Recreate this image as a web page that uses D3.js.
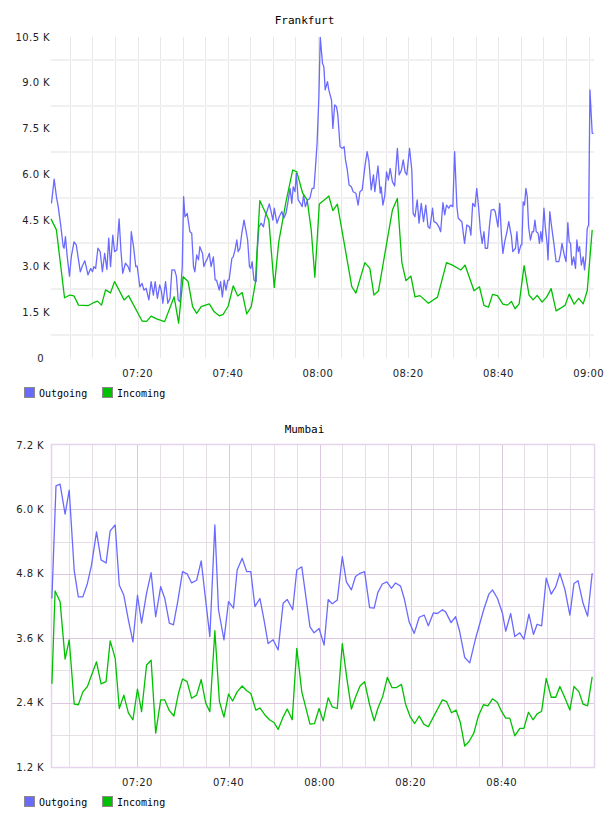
<!DOCTYPE html>
<html>
<head>
<meta charset="utf-8">
<script src="https://cdn.jsdelivr.net/npm/d3@7"></script>
<style>
  body { margin: 0; background: #fff; }
  .tick-label { font-family: "DejaVu Sans", sans-serif; font-size: 10px; fill: #222; letter-spacing: 0.4px; }
  .title, .legend { font-family: "DejaVu Sans Mono", monospace; fill: #000; }
</style>
</head>
<body>
<svg id="chart" width="608" height="816"></svg>
<script>
// values are [minutes after 07:00, thousands]
const frankfurtOut = [[0.9,5.06],[1.5,5.85],[2.0,5.28],[2.4,4.95],[3.0,4.29],[3.5,3.64],[3.7,3.59],[4.0,3.97],[4.4,3.31],[4.9,2.68],[5.3,3.31],[5.9,3.80],[6.4,3.70],[6.9,3.21],[7.3,2.82],[7.7,2.99],[8.3,3.18],[8.6,2.99],[9.0,2.72],[9.6,2.93],[10.0,2.82],[10.3,2.99],[10.7,2.93],[11.2,3.59],[11.7,3.48],[12.2,2.82],[12.7,3.42],[13.2,2.90],[13.6,3.92],[14.0,2.99],[14.5,4.02],[14.9,3.48],[15.4,3.53],[15.9,4.55],[16.3,3.53],[16.7,2.77],[17.3,3.10],[17.9,2.99],[18.3,2.82],[18.6,4.13],[19.1,3.64],[19.6,2.99],[19.9,3.01],[20.5,2.33],[21.0,2.44],[21.4,2.22],[21.9,2.28],[22.5,1.90],[23.0,2.50],[23.5,2.06],[23.9,2.50],[24.4,1.95],[24.9,2.39],[25.3,2.17],[25.6,1.79],[26.2,2.50],[26.7,1.79],[27.2,1.95],[27.6,2.88],[28.2,2.88],[28.6,2.68],[29.0,1.90],[29.4,1.84],[29.9,2.99],[30.2,5.28],[30.5,4.62],[31.0,4.73],[31.6,4.13],[32.0,4.08],[32.4,2.99],[32.7,2.82],[33.1,3.37],[33.5,3.21],[33.8,3.64],[34.4,3.42],[34.7,2.99],[35.1,3.15],[35.5,3.26],[35.9,3.42],[36.3,2.99],[36.8,3.31],[37.2,2.55],[37.5,2.55],[38.1,2.22],[38.4,2.50],[38.8,2.00],[39.2,2.55],[39.6,2.22],[40.0,2.55],[40.3,2.55],[40.9,3.26],[41.2,3.31],[41.6,3.53],[42.0,3.86],[42.3,3.48],[42.7,3.59],[43.1,4.08],[43.6,4.51],[44.0,4.19],[44.4,3.86],[44.8,2.99],[45.1,2.93],[45.4,3.15],[45.8,2.55],[46.3,2.50],[46.5,3.42],[46.9,4.29],[47.4,4.41],[47.9,4.29],[48.3,4.62],[48.9,4.90],[49.2,5.04],[49.6,4.79],[50.0,4.51],[50.3,4.90],[50.9,4.41],[51.4,4.62],[52.0,4.79],[52.4,4.57],[52.9,4.73],[53.3,5.06],[53.8,5.55],[54.2,5.06],[54.5,5.60],[54.9,5.44],[55.2,6.04],[55.6,5.17],[56.1,5.06],[56.5,4.95],[56.8,5.33],[57.2,4.95],[57.7,5.17],[58.2,5.22],[58.7,5.55],[59.1,5.55],[59.4,6.15],[59.8,7.02],[60.2,8.55],[60.5,10.49],[61.0,9.64],[61.3,9.53],[61.6,8.77],[62.1,9.04],[62.4,8.77],[62.7,8.60],[63.0,8.44],[63.3,7.51],[63.7,8.28],[64.1,8.22],[64.4,7.95],[64.9,6.91],[65.4,6.86],[65.8,6.91],[66.1,6.48],[66.5,6.15],[66.9,5.66],[67.4,5.60],[67.8,5.44],[68.4,5.39],[68.9,5.00],[69.3,5.44],[69.8,5.50],[70.4,6.26],[70.9,6.75],[71.3,6.42],[71.8,5.50],[72.3,5.99],[72.6,5.44],[73.3,6.28],[73.8,5.39],[74.0,5.60],[74.4,5.00],[74.8,5.30],[75.2,6.09],[75.6,5.82],[76.0,6.20],[76.5,5.77],[77.0,5.63],[77.6,6.86],[78.0,5.99],[78.5,6.15],[78.9,6.48],[79.3,6.09],[79.7,5.99],[80.3,6.86],[80.8,6.15],[81.1,4.73],[81.5,4.62],[82.0,5.17],[82.4,4.41],[82.9,5.06],[83.4,4.46],[83.9,5.00],[84.4,4.29],[84.8,4.24],[85.4,4.90],[85.7,4.46],[86.3,4.41],[86.8,4.29],[87.2,4.13],[87.7,5.08],[88.1,4.68],[88.5,5.00],[89.0,4.90],[89.4,5.00],[89.9,4.95],[90.3,6.75],[90.8,4.95],[91.1,4.57],[91.9,4.46],[92.5,3.75],[93.0,4.35],[93.6,4.29],[93.9,4.02],[94.3,5.06],[94.8,4.95],[95.2,5.55],[95.6,4.95],[96.0,4.19],[96.4,3.75],[96.8,4.13],[97.1,3.59],[97.6,3.59],[98.0,4.29],[98.4,4.84],[99.0,4.86],[99.3,4.79],[99.9,4.29],[100.3,5.06],[100.7,3.97],[101.0,3.42],[101.4,3.80],[101.9,4.13],[102.3,4.46],[102.9,3.97],[103.2,3.48],[103.8,3.59],[104.1,4.13],[104.5,3.42],[105.0,3.70],[105.2,3.70],[105.5,5.11],[105.8,5.00],[106.1,5.55],[106.4,5.28],[106.7,4.29],[107.1,3.86],[107.5,4.13],[107.8,4.13],[108.1,4.51],[108.4,4.13],[108.8,4.08],[109.1,3.75],[109.4,4.13],[109.7,3.80],[110.1,4.90],[110.4,4.29],[110.8,3.75],[111.0,3.21],[111.4,4.79],[111.7,4.41],[112.3,3.75],[112.8,3.15],[113.4,3.15],[113.8,3.42],[114.1,3.75],[114.6,3.37],[115.0,3.15],[115.4,4.43],[115.7,3.80],[116.0,3.75],[116.3,3.04],[116.7,3.31],[117.1,2.93],[117.4,3.86],[117.7,3.48],[118.0,3.64],[118.4,3.04],[118.8,3.31],[119.1,2.88],[119.4,3.31],[119.7,4.24],[120.0,4.35],[120.3,8.77],[120.8,7.35],[121.1,7.35]];

const frankfurtIn = [[0.8,4.55],[2.0,4.19],[3.8,1.97],[5.0,2.06],[5.9,2.03],[6.9,1.73],[9.0,1.71],[10.1,1.80],[11.1,1.86],[12.0,1.73],[12.9,2.23],[14.0,2.13],[14.9,2.50],[17.0,1.90],[18.0,2.04],[21.0,1.21],[22.0,1.20],[23.0,1.37],[24.2,1.28],[26.0,1.19],[28.1,2.00],[29.1,1.14],[30.1,2.66],[31.2,2.50],[32.2,1.68],[33.1,1.46],[34.1,1.68],[35.9,1.77],[37.0,1.51],[38.1,1.38],[39.0,1.43],[40.1,1.70],[41.2,2.36],[42.2,2.03],[43.2,2.14],[44.2,1.44],[45.2,1.68],[46.1,2.44],[47.1,5.15],[47.9,4.90],[49.1,4.51],[50.3,2.31],[51.3,3.80],[52.9,5.11],[54.4,6.15],[55.3,6.09],[56.6,5.39],[57.6,5.17],[58.5,4.19],[59.3,2.64],[60.3,5.04],[61.8,5.22],[62.4,5.30],[63.3,4.82],[64.3,5.03],[67.5,2.33],[68.4,2.12],[70.4,3.12],[71.5,2.93],[72.4,2.06],[73.4,2.19],[76.5,4.84],[77.6,5.22],[78.6,3.12],[79.5,2.53],[80.6,2.68],[81.5,2.00],[82.6,2.04],[84.5,1.79],[86.5,1.99],[88.5,3.12],[89.8,3.04],[91.7,2.88],[92.6,3.04],[94.6,2.20],[95.8,2.33],[96.8,1.72],[97.8,1.66],[98.7,2.08],[99.8,2.04],[101.0,1.76],[102.0,1.73],[102.9,1.85],[103.7,1.61],[104.6,1.77],[105.7,3.02],[106.8,2.06],[107.7,1.90],[108.6,2.05],[109.7,1.83],[110.7,1.99],[111.7,2.27],[112.8,1.54],[113.8,1.63],[114.8,1.73],[115.7,2.09],[116.8,1.76],[117.8,1.95],[118.8,1.77],[119.7,2.20],[120.8,4.19]];

const mumbaiOut = [[1.2,4.34],[2.1,6.44],[3.0,6.47],[4.1,5.91],[5.0,6.36],[6.1,4.86],[7.0,4.37],[8.0,4.37],[9.0,4.62],[9.9,4.96],[11.0,5.58],[12.0,5.06],[13.1,5.00],[14.0,5.60],[15.1,5.71],[16.0,4.59],[17.0,4.40],[18.0,3.94],[19.0,3.53],[20.0,4.40],[20.9,3.88],[22.0,4.44],[23.0,4.82],[24.0,4.00],[25.1,4.56],[26.0,4.34],[27.0,3.88],[27.9,3.85],[28.9,4.31],[29.9,4.84],[30.9,4.80],[31.9,4.63],[33.0,4.68],[34.0,5.04],[34.8,4.44],[35.9,3.63],[37.0,5.71],[37.8,4.13],[39.0,3.57],[40.0,4.28],[41.1,4.16],[41.9,4.87],[43.0,5.09],[44.0,4.84],[44.9,4.84],[45.8,4.19],[46.9,4.34],[47.8,3.94],[48.7,3.50],[49.8,3.57],[50.9,3.38],[52.0,4.25],[52.9,4.32],[54.1,4.13],[55.0,4.87],[56.1,4.93],[57.9,3.81],[58.8,3.70],[59.9,3.78],[61.0,3.47],[61.9,4.32],[62.8,4.24],[63.9,4.31],[65.0,5.12],[65.9,4.65],[67.0,4.50],[67.9,4.75],[68.9,4.81],[69.9,4.84],[71.0,4.17],[72.0,4.16],[72.8,4.45],[73.8,4.61],[74.8,4.65],[75.8,4.53],[76.7,4.63],[77.8,4.57],[78.6,4.34],[79.7,3.90],[80.8,3.69],[81.9,3.99],[83.0,4.03],[83.9,3.83],[85.0,4.07],[85.9,4.06],[87.0,4.13],[87.7,4.09],[88.9,3.89],[89.9,4.00],[90.8,3.72],[91.9,3.24],[93.0,3.14],[94.3,3.60],[96.1,4.14],[97.2,4.42],[98.0,4.50],[99.1,4.34],[100.2,4.06],[100.9,3.73],[102.0,4.06],[102.9,3.63],[104.0,3.70],[104.9,3.58],[106.0,4.05],[107.0,3.67],[107.8,3.86],[108.8,3.83],[109.8,4.72],[110.9,4.42],[111.9,4.56],[112.8,4.81],[113.9,4.51],[115.0,4.03],[115.9,4.62],[116.8,4.67],[117.9,4.25],[118.9,4.01],[119.9,4.81]];

const mumbaiIn = [[1.2,2.75],[1.9,4.48],[3.0,4.28],[4.1,3.21],[5.0,3.57],[6.1,2.37],[7.0,2.36],[8.0,2.60],[9.0,2.70],[9.9,2.91],[11.0,3.16],[12.0,2.75],[13.1,2.79],[14.0,3.55],[15.1,3.23],[16.0,2.29],[17.0,2.54],[18.0,2.21],[19.0,2.08],[20.0,2.65],[20.9,2.23],[22.0,3.10],[23.0,3.19],[24.0,1.83],[25.1,2.45],[26.0,2.45],[27.0,2.25],[28.0,2.15],[29.0,2.57],[29.9,2.84],[30.9,2.79],[31.9,2.48],[33.0,2.54],[34.0,2.83],[35.0,2.39],[35.9,2.23],[37.0,3.74],[38.0,2.42],[39.0,2.13],[40.0,2.56],[40.9,2.43],[41.9,2.60],[43.0,2.71],[44.0,2.62],[44.9,2.57],[46.0,2.26],[46.9,2.30],[48.0,2.17],[49.0,2.08],[50.0,2.03],[50.9,1.90],[52.0,2.13],[52.9,2.28],[54.0,2.08],[55.0,3.41],[56.1,2.60],[57.9,2.00],[58.9,2.01],[59.9,2.29],[60.8,2.06],[61.9,2.49],[62.8,2.32],[63.9,2.29],[65.0,3.50],[66.0,2.85],[67.0,2.28],[67.9,2.50],[68.9,2.71],[69.9,2.79],[71.0,2.36],[72.0,2.06],[72.8,2.29],[73.9,2.52],[74.9,2.87],[75.9,2.68],[76.9,2.68],[78.0,2.74],[78.9,2.37],[79.9,2.14],[80.9,2.01],[81.9,2.15],[82.9,2.00],[83.9,1.95],[85.0,2.13],[86.0,2.29],[87.0,2.45],[87.9,2.42],[89.0,2.21],[90.0,2.26],[90.9,2.04],[91.9,1.59],[92.8,1.67],[93.9,1.83],[94.9,2.15],[96.0,2.36],[97.0,2.34],[98.0,2.47],[99.1,2.40],[99.9,2.25],[100.9,2.11],[101.8,2.11],[102.9,1.78],[104.0,1.92],[104.9,1.92],[105.9,2.22],[106.9,2.08],[107.8,2.19],[108.8,2.24],[109.8,2.85],[110.9,2.50],[111.9,2.50],[112.8,2.70],[113.9,2.49],[115.0,2.26],[115.9,2.70],[117.0,2.60],[117.9,2.37],[118.9,2.34],[119.9,2.88]];

const frankfurtTimeTicks = ["07:20", "07:40", "08:00", "08:20", "08:40", "09:00"];
const mumbaiTimeTicks = ["07:20", "07:40", "08:00", "08:20", "08:40"];
const frankfurtValueTicks = [0, 1.5, 3, 4.5, 6, 7.5, 9, 10.5];
const mumbaiValueTicks = [1.2, 2.4, 3.6, 4.8, 6.0, 7.2];

const seriesNames = ["Outgoing", "Incoming"];
const seriesColors = ["#6a6aff", "#00c000"];

const parseHM = d3.timeParse("%H:%M");
const base = parseHM("07:00");
const at = m => new Date(base.getTime() + m * 60000);

const svg = d3.select("#chart");

function drawChart(c) {
  const g = svg.append("g");

  const x = d3.scaleTime()
    .domain([at(c.start), at(c.end)])
    .range([c.left, c.right]);

  const y = d3.scaleLinear()
    .domain(d3.extent(c.valueTicks))
    .range([c.bottom, c.top]);

  // vertical grid every 5 minutes
  const minutes = x.ticks(d3.timeMinute.every(5)).filter(d => x(d) < c.right - 3);
  g.selectAll("line.vgrid")
    .data(minutes)
    .enter()
    .append("line")
    .attr("x1", d => Math.round(x(d)) + 0.5)
    .attr("x2", d => Math.round(x(d)) + 0.5)
    .attr("y1", c.top)
    .attr("y2", c.bottom)
    .attr("stroke", d => (c.framed && d.getMinutes() % 20 === 0) ? c.majorColor : c.minorColor)
    .attr("stroke-width", 1);

  // horizontal grid, half steps between labels
  const step = c.valueTicks[1] - c.valueTicks[0];
  const halves = c.valueTicks.slice(0, -1).map(v => v + step / 2);
  g.selectAll("line.hminor")
    .data(halves)
    .enter()
    .append("line")
    .attr("x1", c.left)
    .attr("x2", c.right)
    .attr("y1", d => Math.round(y(d)) + (c.framed ? 0.5 : 0))
    .attr("y2", d => Math.round(y(d)) + (c.framed ? 0.5 : 0))
    .attr("stroke", c.framed ? c.minorColor : "#f0f0f0")
    .attr("stroke-width", c.framed ? 1 : 2);

  if (c.framed) {
    g.selectAll("line.hmajor")
      .data(c.valueTicks.slice(1, -1))
      .enter()
      .append("line")
      .attr("x1", c.left)
      .attr("x2", c.right)
      .attr("y1", d => Math.round(y(d)) + 0.5)
      .attr("y2", d => Math.round(y(d)) + 0.5)
      .attr("stroke", c.majorColor);

    g.append("rect")
      .attr("x", c.left + 0.5)
      .attr("y", c.top - 0.5)
      .attr("width", c.right - c.left)
      .attr("height", c.bottom - c.top + 1)
      .attr("fill", "none")
      .attr("stroke", "#e4d4ec")
      .attr("stroke-width", 1.5);
  }

  // lines
  const line = d3.line()
    .x(d => x(at(d[0])))
    .y(d => y(d[1]));

  [c.out, c.inc].forEach((s, i) => {
    g.append("path")
      .datum(s)
      .attr("d", line)
      .attr("fill", "none")
      .attr("stroke", seriesColors[i])
      .attr("stroke-width", 1.3)
      .attr("stroke-linejoin", "round");
  });

  // value labels
  g.selectAll("text.ylab")
    .data(c.valueTicks)
    .enter()
    .append("text")
    .attr("class", "tick-label")
    .attr("x", d => d === 0 ? c.labelX - 6 : c.labelX)
    .attr("y", d => y(d))
    .attr("dy", "0.36em")
    .attr("text-anchor", "end")
    .text(d => d === 0 ? "0" : d.toFixed(1) + " K");

  // time labels
  g.selectAll("text.xlab")
    .data(c.timeTicks)
    .enter()
    .append("text")
    .attr("class", "tick-label")
    .attr("x", d => x(parseHM(d)))
    .attr("y", c.bottom + 19)
    .attr("text-anchor", "middle")
    .text(d => d);

  // title
  g.append("text")
    .attr("class", "title")
    .attr("x", (c.left + c.right) / 2 - 18)
    .attr("y", c.titleY)
    .attr("text-anchor", "middle")
    .style("font-size", "11px")
    .text(c.title);

  // legend
  const legend = g.append("g")
    .attr("transform", `translate(24, ${c.bottom + 29})`);
  const items = legend.selectAll("g")
    .data(seriesNames)
    .enter()
    .append("g")
    .attr("transform", (d, i) => `translate(${i * 78}, 0)`);
  items.append("rect")
    .attr("x", 0.5)
    .attr("y", 0.5)
    .attr("width", 10)
    .attr("height", 10)
    .attr("fill", (d, i) => seriesColors[i])
    .attr("stroke", "#8a8a8a");
  items.append("text")
    .attr("class", "legend")
    .attr("x", 15)
    .attr("y", 9.5)
    .style("font-size", "10px")
    .text(d => d);
}

drawChart({
  title: "Frankfurt", titleY: 24,
  out: frankfurtOut, inc: frankfurtIn,
  timeTicks: frankfurtTimeTicks, valueTicks: frankfurtValueTicks,
  start: 0.8, end: 121.2,
  left: 51, right: 594, top: 37, bottom: 358,
  labelX: 50, framed: false,
  minorColor: "#e8e8e8"
});

drawChart({
  title: "Mumbai", titleY: 433,
  out: mumbaiOut, inc: mumbaiIn,
  timeTicks: mumbaiTimeTicks, valueTicks: mumbaiValueTicks,
  start: 1.0, end: 120.3,
  left: 51, right: 594, top: 445, bottom: 767,
  labelX: 44, framed: true,
  minorColor: "#e6dfe6", majorColor: "#dcc6e0"
});
</script>
</body>
</html>
